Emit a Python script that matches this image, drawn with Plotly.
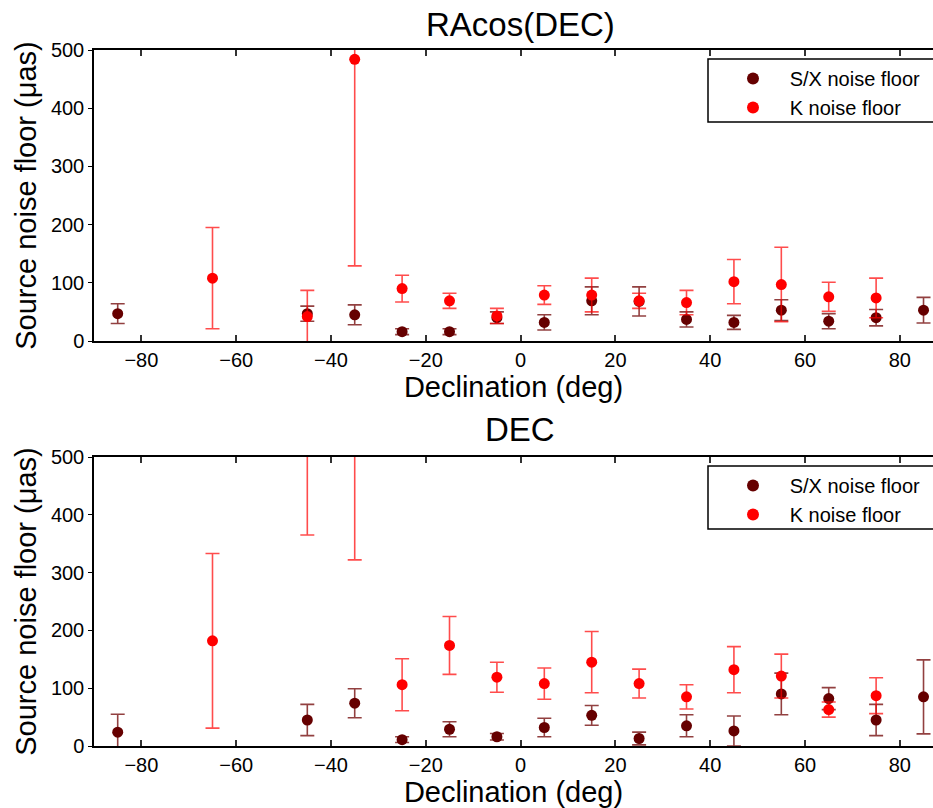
import plotly.graph_objects as go

# ---------------- data ----------------
dec_sx = [-85, -45, -35, -25, -15, -5, 5, 15, 25, 35, 45, 55, 65, 75, 85]
dec_k = [-65, -45, -35, -25, -15, -5, 5, 15, 25, 35, 45, 55, 65, 75]

# RAcos(DEC) panel
ra_sx_val = [47, 47, 45, 16, 16, 40, 32, 69, 68, 37, 32, 53, 34, 40, 53]
ra_sx_err = [17, 13, 17, 5, 5, 10, 13, 24, 25, 13, 12, 18, 13, 14, 22]
ra_k_val = [108, 42, 484, 90, 69, 43, 79, 79, 69, 66, 102, 97, 76, 74]
ra_k_err = [87, 45, 355, 23, 13, 13, 16, 29, 13, 21, 38, 64, 25, 34]

# DEC panel
de_sx_val = [24, 45, 74, 11, 29, 16, 32, 53, 13, 35, 26, 90, 82, 45, 85]
de_sx_err = [31, 27, 25, 5, 13, 5.5, 16, 17, 11, 19, 26, 36, 19, 27, 64]
de_k_val = [182, 610, 560, 106, 174, 119, 108, 145, 108, 85, 132, 121, 63, 87]
de_k_err = [151, 245, 238, 45, 50, 26, 27, 53, 25, 21, 40, 38, 13, 31]

panel_titles = ["RAcos(DEC)", "DEC"]
series_names = ["S/X noise floor", "K noise floor"]
x_ticks = [-80, -60, -40, -20, 0, 20, 40, 60, 80]
y_ticks = [0, 100, 200, 300, 400, 500]

# ---------------- style ----------------
FONT = "Liberation Sans, Arial, Helvetica, sans-serif"
C_SX = "#660000"
C_SX_ERR = "rgba(110,0,0,0.75)"
C_K = "#ff0000"
C_K_ERR = "rgba(255,0,0,0.7)"
PAD = "\u00a0\u00a0\u00a0"

W, H = 933, 808
L = 94
fig = go.Figure()

def add_panel(xa, ya, legend, sxv, sxe, kv, ke):
    fig.add_trace(go.Scatter(
        x=dec_sx, y=sxv, mode="markers", name=PAD + series_names[0],
        xaxis=xa, yaxis=ya, legend=legend,
        marker=dict(color=C_SX, size=11, line=dict(width=0)),
        error_y=dict(type="data", array=sxe, visible=True, color=C_SX_ERR,
                     thickness=1.6, width=7)))
    fig.add_trace(go.Scatter(
        x=dec_k, y=kv, mode="markers", name=PAD + series_names[1],
        xaxis=xa, yaxis=ya, legend=legend,
        marker=dict(color=C_K, size=11, line=dict(width=0)),
        error_y=dict(type="data", array=ke, visible=True, color=C_K_ERR,
                     thickness=1.6, width=7)))

add_panel("x", "y", "legend", ra_sx_val, ra_sx_err, ra_k_val, ra_k_err)
add_panel("x2", "y2", "legend2", de_sx_val, de_sx_err, de_k_val, de_k_err)

def px_y(top, bottom):
    return [1 - bottom / H, 1 - top / H]

xcommon = dict(range=[-90, 87.0], tickvals=x_ticks, ticks="inside", ticklen=6,
               tickwidth=1.5, tickcolor="#333", showline=True, linecolor="black",
               linewidth=1.5, mirror="ticks", showgrid=False, zeroline=False,
               tickfont=dict(family=FONT, size=20, color="black"),
               title=dict(text="Declination (deg)",
                          font=dict(family=FONT, size=29, color="black"),
                          standoff=4))
ycommon = dict(range=[0, 500], tickvals=y_ticks, ticks="outside", ticklen=4,
               tickwidth=1.2, tickcolor="black", showline=True, linecolor="black",
               linewidth=1.5, mirror=False, showgrid=False, zeroline=False,
               tickfont=dict(family=FONT, size=20, color="black"),
               title=dict(text="Source noise floor (\u03bcas)",
                          font=dict(family=FONT, size=29, color="black"),
                          standoff=6))

fig.update_layout(
    width=W, height=H,
    margin=dict(l=L, r=0, t=0, b=0, autoexpand=False),
    paper_bgcolor="white", plot_bgcolor="white",
    showlegend=True,
    xaxis=dict(xcommon, domain=[0, 1], anchor="y"),
    yaxis=dict(ycommon, domain=px_y(50, 341), anchor="x"),
    xaxis2=dict(xcommon, domain=[0, 1], anchor="y2"),
    yaxis2=dict(ycommon, domain=px_y(457, 746), anchor="x2"),
    legend=dict(x=(733 - L) / (W - L), y=1 - 59 / H, xanchor="left", yanchor="top",
                bgcolor="rgba(0,0,0,0)", borderwidth=0,
                font=dict(family=FONT, size=20, color="black"),
                itemsizing="constant", tracegroupgap=0),
    legend2=dict(x=(733 - L) / (W - L), y=1 - 466 / H, xanchor="left", yanchor="top",
                 bgcolor="rgba(0,0,0,0)", borderwidth=0,
                 font=dict(family=FONT, size=20, color="black"),
                 itemsizing="constant", tracegroupgap=0),
)

# legend frames (extend past the cropped right edge like the reference)
for top, bot in [(59, 122), (466, 529)]:
    fig.add_shape(type="rect", xref="paper", yref="paper",
                  x0=(708 - L) / (W - L), x1=(960 - L) / (W - L),
                  y0=1 - bot / H, y1=1 - top / H,
                  line=dict(color="black", width=1.5), fillcolor="rgba(0,0,0,0)")

# panel titles
for text, yc in zip(panel_titles, [24, 429]):
    fig.add_annotation(text=text, xref="paper", yref="paper",
                       x=(520 - L) / (W - L), y=1 - yc / H,
                       xanchor="center", yanchor="middle", showarrow=False,
                       font=dict(family=FONT, size=33, color="black"))

fig.write_html("out.html")
